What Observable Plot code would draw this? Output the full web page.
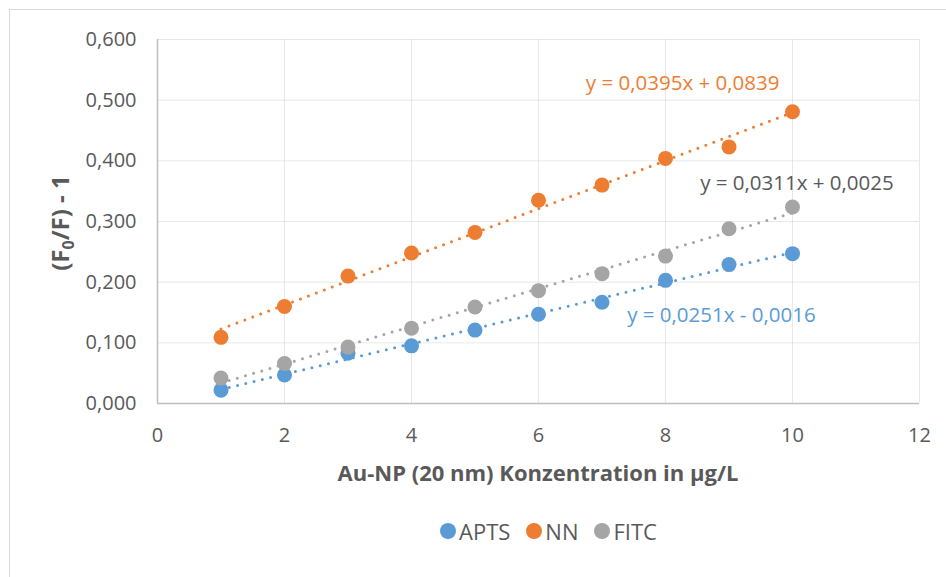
<!DOCTYPE html>
<html>
<head>
<meta charset="utf-8">
<script src="https://cdn.jsdelivr.net/npm/d3@7"></script>
<script src="https://cdn.jsdelivr.net/npm/@observablehq/plot@0.6"></script>
<style>
  html, body { margin: 0; padding: 0; background: #fff; }
  body { width: 946px; height: 577px; position: relative; overflow: hidden; font-family: "Open Sans", sans-serif; }
  #frame { position: absolute; left: 9px; top: 9px; width: 940px; height: 600px; border: 1px solid #d9d9d9; box-sizing: border-box; }
  #chart { position: absolute; left: 0; top: 0; }
  #legend { position: absolute; left: 440px; top: 516px; display: flex; align-items: center; font-size: 22px; color: #595959; }
  .item { display: flex; align-items: center; margin-right: 16px; }
  .sw { width: 16px; height: 16px; border-radius: 50%; display: inline-block; margin-right: 3px; }
</style>
</head>
<body>
<div id="frame"></div>
<div id="chart"></div>
<div id="legend"></div>
<script>
const concentrations = [1, 2, 3, 4, 5, 6, 7, 8, 9, 10];
const apts = [0.022, 0.047, 0.083, 0.095, 0.121, 0.147, 0.167, 0.203, 0.229, 0.247];
const nn   = [0.109, 0.160, 0.210, 0.248, 0.282, 0.335, 0.360, 0.404, 0.423, 0.481];
const fitc = [0.042, 0.066, 0.093, 0.124, 0.159, 0.186, 0.214, 0.243, 0.288, 0.324];
const seriesNames = ["APTS", "NN", "FITC"];
const seriesColors = ["#5B9BD5", "#ED7D31", "#A5A5A5"];
const equations = ["y = 0,0251x - 0,0016", "y = 0,0395x + 0,0839", "y = 0,0311x + 0,0025"];
const xTicks = [0, 2, 4, 6, 8, 10, 12];
const yTicks = [0, 0.1, 0.2, 0.3, 0.4, 0.5, 0.6];

const valuesBySeries = [apts, nn, fitc];
const rows = [];
seriesNames.forEach((s, i) => concentrations.forEach((c, j) => rows.push({series: s, x: c, y: valuesBySeries[i][j]})));

const fmt = v => d3.format(".3f")(v).replace(".", ",");

const plot = Plot.plot({
  width: 946,
  height: 500,
  marginLeft: 157,
  marginRight: 27,
  marginTop: 39,
  marginBottom: 97,
  style: {fontFamily: "Open Sans, sans-serif", fontSize: "20px", color: "#595959", background: "transparent"},
  x: {domain: [0, 12], ticks: xTicks},
  y: {domain: [0, 0.6], ticks: yTicks, tickFormat: fmt},
  color: {domain: seriesNames, range: seriesColors},
  marks: [
    Plot.gridX(xTicks, {stroke: "#d9d9d9", strokeOpacity: 0.6, strokeWidth: 1}),
    Plot.gridY(yTicks, {stroke: "#d9d9d9", strokeOpacity: 0.6, strokeWidth: 1}),
    Plot.axisX({ticks: xTicks, tickSize: 0, tickPadding: 24, label: null, fill: "#595959"}),
    Plot.axisY({ticks: yTicks, tickSize: 0, tickPadding: 21, tickFormat: fmt, label: null, fill: "#595959"}),
    Plot.ruleX([0], {stroke: "#bfbfbf", strokeWidth: 1.5}),
    Plot.ruleY([0], {stroke: "#bfbfbf", strokeWidth: 1.5}),
    Plot.dot(rows, {x: "x", y: "y", fill: "series", r: 7.5, stroke: "none"}),
    Plot.linearRegressionY(rows, {x: "x", y: "y", stroke: "series", ci: 0, strokeWidth: 3, strokeDasharray: "0 8.5", strokeLinecap: "round"}),
    Plot.text([equations[1]], {x: 8.27, y: 0.5276, text: d => d, fill: seriesColors[1], fontSize: 20.5, textAnchor: "middle"}),
    Plot.text([equations[2]], {x: 10.07, y: 0.363, text: d => d, fill: "#595959", fontSize: 20.5, textAnchor: "middle"}),
    Plot.text([equations[0]], {x: 8.88, y: 0.1457, text: d => d, fill: seriesColors[0], fontSize: 20.5, textAnchor: "middle"})
  ]
});
document.getElementById("chart").appendChild(plot);

const svg = d3.select(plot);
svg.append("text")
  .attr("x", 538).attr("y", 481)
  .attr("text-anchor", "middle")
  .attr("font-weight", "bold").attr("font-size", 22)
  .attr("fill", "#595959")
  .text("Au-NP (20 nm) Konzentration in µg/L");
const yl = svg.append("text")
  .attr("transform", "translate(69,223) rotate(-90)")
  .attr("text-anchor", "middle")
  .attr("font-weight", "bold").attr("font-size", 24)
  .attr("fill", "#595959");
yl.append("tspan").text("(F");
yl.append("tspan").attr("font-size", 16).attr("dy", 5).text("0");
yl.append("tspan").attr("dy", -5).text("/F) - 1");

const legend = d3.select("#legend");
seriesNames.forEach((s, i) => {
  const it = legend.append("div").attr("class", "item");
  it.append("span").attr("class", "sw").style("background", seriesColors[i]);
  it.append("span").text(s);
});
</script>
</body>
</html>
